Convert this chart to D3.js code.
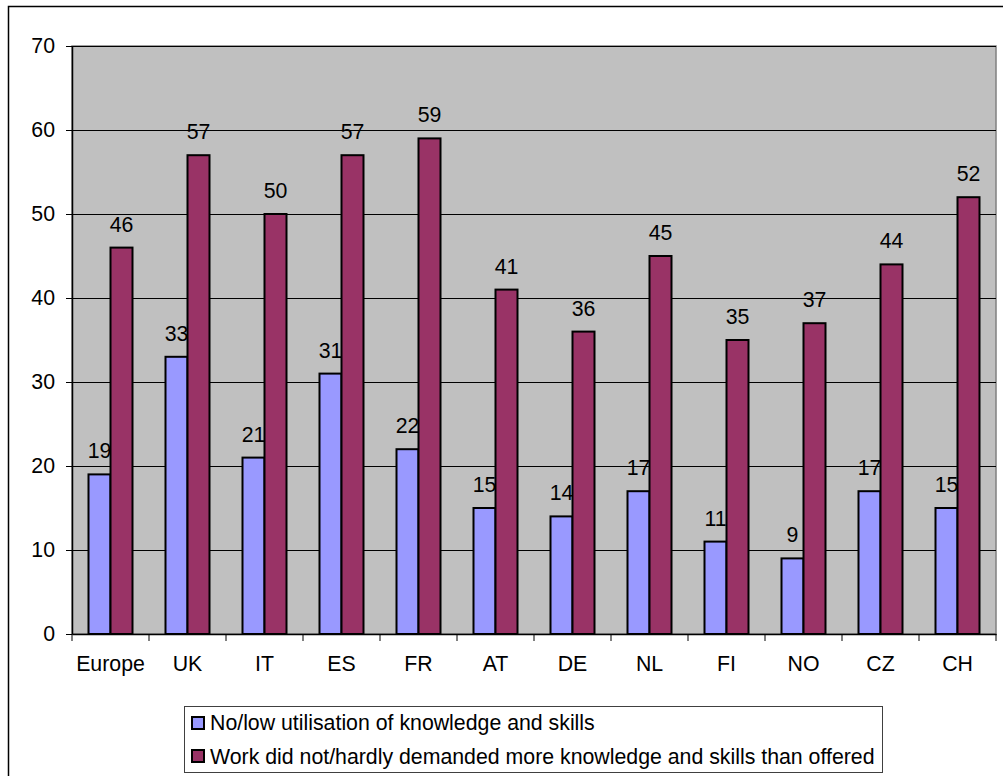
<!DOCTYPE html>
<html><head><meta charset="utf-8">
<script src="https://cdn.jsdelivr.net/npm/d3@7"></script>
<style>body{margin:0;background:#fff}svg{display:block}text{font-family:"Liberation Sans",Arial,sans-serif}</style>
</head><body>
<svg id="c" width="1003" height="776"></svg>
<script>
const categories = ["Europe","UK","IT","ES","FR","AT","DE","NL","FI","NO","CZ","CH"];
const seriesNames = ["No/low utilisation of knowledge and skills","Work did not/hardly demanded more knowledge and skills than offered"];
const lowUtil = [19,33,21,31,22,15,14,17,11,9,17,15];
const notDemanded = [46,57,50,57,59,41,36,45,35,37,44,52];
const yTicks = [0,10,20,30,40,50,60,70];
const colors = ["#9999FF","#993366"];

const svg = d3.select("#c");
const L=72, R=996, T=46, B=634;
const fs = 21.3;

svg.append("rect").attr("x",8.5).attr("y",6.5).attr("width",1100).attr("height",1100)
  .attr("fill","#fff").attr("stroke","#000").attr("stroke-width",1.5);

const x = d3.scaleBand().domain(categories).range([L,R]).paddingInner(0).paddingOuter(0);
const y = d3.scaleLinear().domain([0,70]).range([B,T]);
const bw = x.bandwidth()/3.5;
const off = x.bandwidth()*0.75/3.5;

svg.append("rect").attr("x",L).attr("y",T).attr("width",R-L).attr("height",B-T)
  .attr("fill","#C0C0C0").attr("stroke","#808080").attr("stroke-width",1.5);

// gridlines
svg.append("g").selectAll("line").data(yTicks.filter(d=>d>0)).join("line")
  .attr("x1",L).attr("x2",R).attr("y1",d=>y(d)+0.5).attr("y2",d=>y(d)+0.5)
  .attr("stroke","#000").attr("stroke-width",1);

// y axis
const ya = svg.append("g").attr("transform",`translate(${L},0)`)
  .call(d3.axisLeft(y).tickValues(yTicks).tickSize(6).tickPadding(11).tickSizeOuter(0));
ya.select(".domain").attr("stroke","#000").attr("stroke-width",1.5);
ya.selectAll(".tick line").attr("stroke","#000");
ya.selectAll("text").attr("font-size",fs).attr("fill","#000").style("font-family","Liberation Sans, Arial, sans-serif");

// x axis
const xa = svg.append("g").attr("transform",`translate(0,${B})`)
  .call(d3.axisBottom(x).tickSize(0).tickPadding(22));
xa.select(".domain").attr("stroke","#000").attr("stroke-width",1.5);
xa.selectAll("text").attr("font-size",fs).attr("fill","#000").style("font-family","Liberation Sans, Arial, sans-serif");
svg.append("g").selectAll("line").data(d3.range(categories.length+1)).join("line")
  .attr("x1",i=>L+i*x.bandwidth()).attr("x2",i=>L+i*x.bandwidth())
  .attr("y1",B).attr("y2",B+7).attr("stroke","#000").attr("stroke-width",1);

function bars(vals, si){
  svg.append("g").selectAll("rect").data(vals).join("rect")
    .attr("x",(d,i)=>x(categories[i])+off+si*bw)
    .attr("y",d=>y(d))
    .attr("width",bw).attr("height",d=>B-y(d))
    .attr("fill",colors[si]).attr("stroke","#000").attr("stroke-width",2);
  svg.append("g").selectAll("text").data(vals).join("text")
    .attr("x",(d,i)=>x(categories[i])+off+si*bw+bw/2)
    .attr("y",d=>y(d)-16)
    .attr("text-anchor","middle").attr("font-size",fs).attr("fill","#000")
    .text(d=>d);
}
bars(lowUtil,0);
bars(notDemanded,1);

// legend
const lg = svg.append("g");
lg.append("rect").attr("x",184.5).attr("y",706.5).attr("width",698).attr("height",66)
  .attr("fill","#fff").attr("stroke","#404040").attr("stroke-width",1);
seriesNames.forEach((n,i)=>{
  lg.append("rect").attr("x",192).attr("y",717+i*33).attr("width",12).attr("height",12)
    .attr("fill",colors[i]).attr("stroke","#000").attr("stroke-width",2);
  lg.append("text").attr("x",210).attr("y",730+i*33.5).attr("font-size",fs).attr("fill","#000").text(n);
});
</script>
</body></html>
